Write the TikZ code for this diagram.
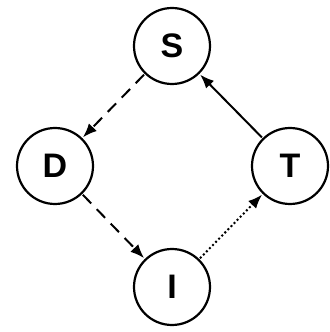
\documentclass[tikz,border=0pt]{standalone}
\usepackage{fontspec}
\setmainfont{Liberation Sans}
\usetikzlibrary{arrows.meta,positioning}

\begin{document}
\begin{tikzpicture}[x=1pt,y=1pt,>={Latex[length=7pt,width=5.5pt]},
  state/.style={draw,circle,line width=1.1pt,minimum size=38pt,inner sep=0pt,
    font=\fontsize{17}{17}\selectfont\bfseries},
  link/.style={->,line width=1pt,shorten >=0.5pt,shorten <=0.5pt}]
\useasboundingbox (0,0) rectangle (164.5,166);
\node[state] (s) at (86,143) {S}; \node[state] (d) at (27.5,83) {D};
\node[state] (t) at (145,83) {T}; \node[state] (i) at (86,22.5) {I};
\draw[link,dash pattern=on 6pt off 4pt] (s)--(d);
\draw[link,dash pattern=on 6pt off 4pt] (d)--(i);
\draw[link,dash pattern=on 1pt off 1.2pt] (i)--(t);
\draw[link] (t)--(s);
\end{tikzpicture}
\end{document}
